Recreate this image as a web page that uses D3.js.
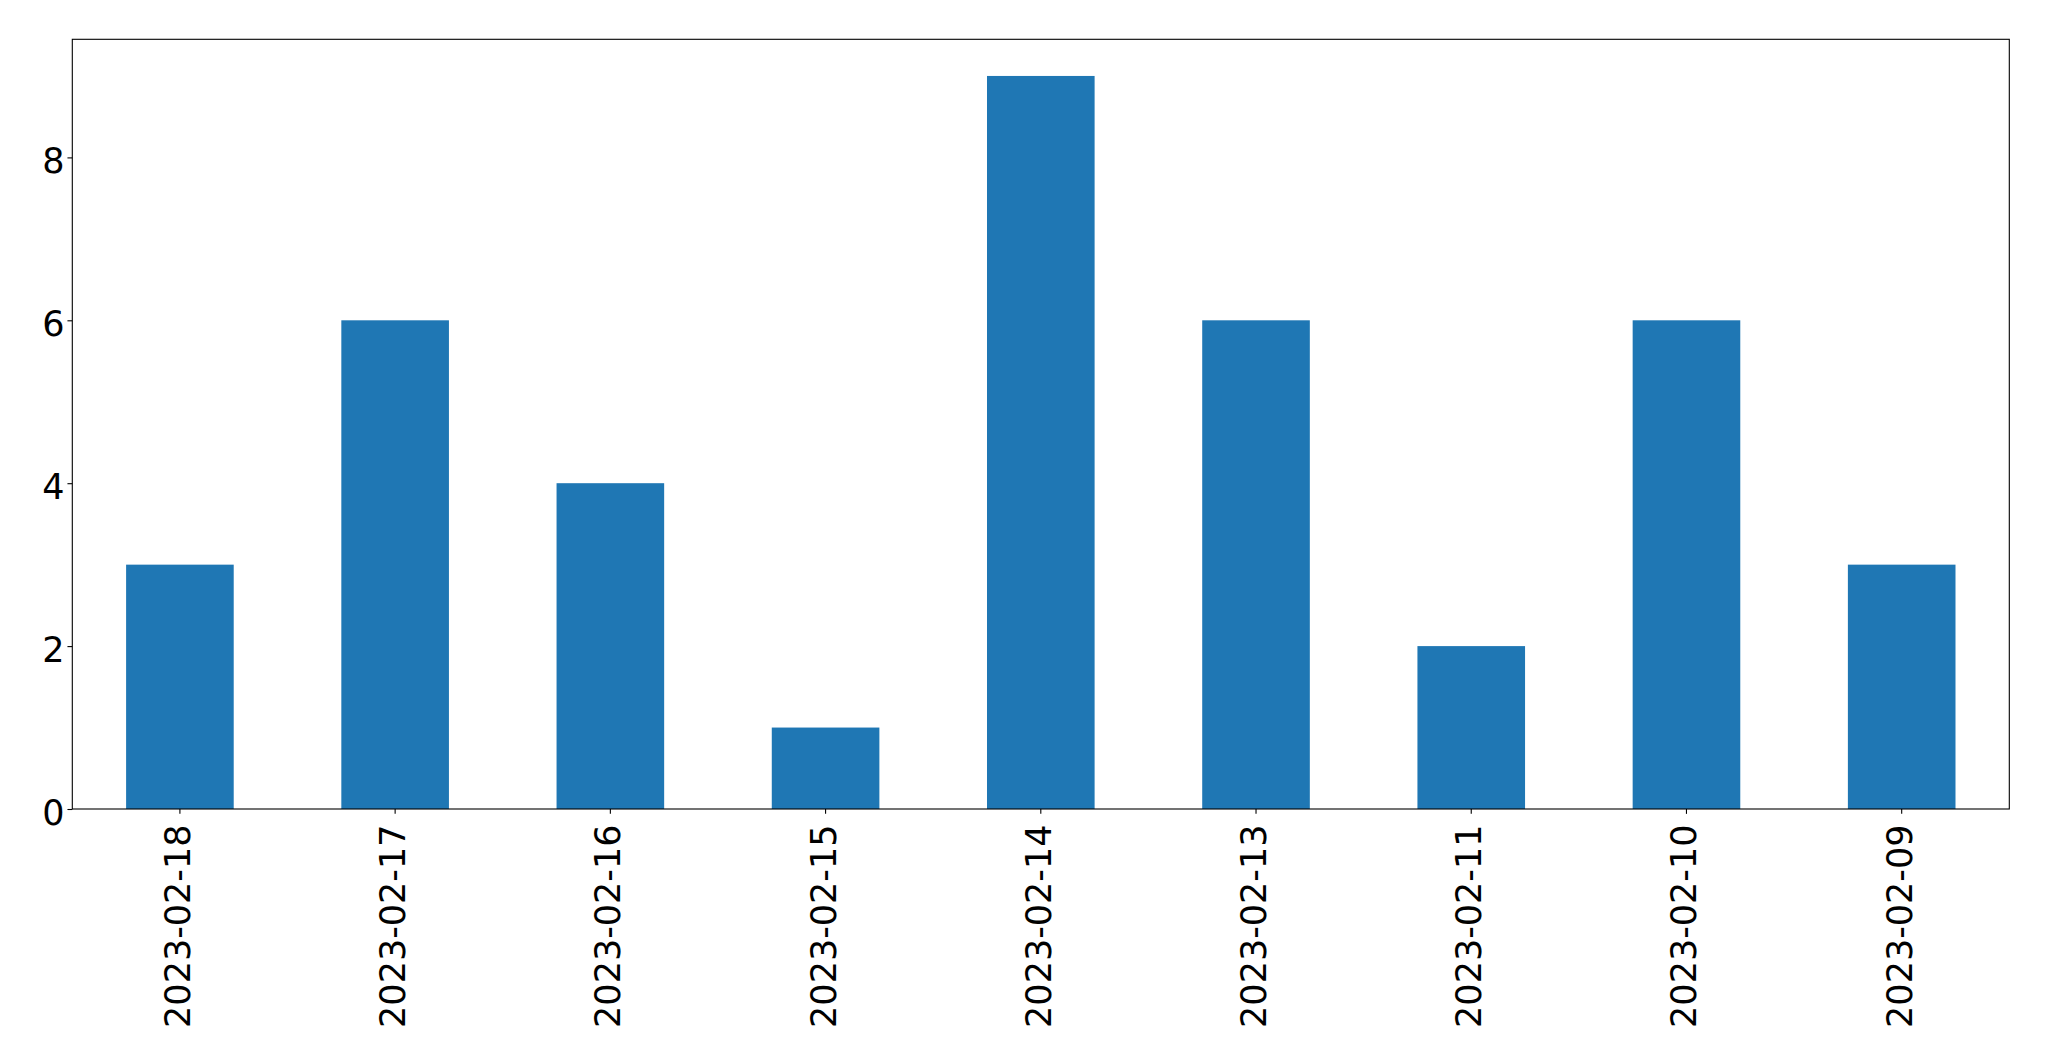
<!DOCTYPE html>
<html>
<head>
<meta charset="utf-8">
<script src="https://cdn.jsdelivr.net/npm/d3@7"></script>
<style>
  html, body { margin: 0; padding: 0; background: #fff; }
  svg { display: block; }
  text { font-family: "DejaVu Sans", sans-serif; fill: #000; }
</style>
</head>
<body>
<svg id="chart" width="2049" height="1061"></svg>
<script>
const categories = ["2023-02-18", "2023-02-17", "2023-02-16", "2023-02-15", "2023-02-14", "2023-02-13", "2023-02-11", "2023-02-10", "2023-02-09"];
const values = [3, 6, 4, 1, 9, 6, 2, 6, 3];
const yTicks = [0, 2, 4, 6, 8];

const W = 2049, H = 1061;
const margin = { left: 72.3, right: 2049 - 2009.3, top: 39.3, bottom: 1061 - 809 };
const svg = d3.select("#chart");

const x = d3.scaleBand()
  .domain(categories)
  .range([margin.left, W - margin.right])
  .paddingInner(0.5)
  .paddingOuter(0.25);

const y = d3.scaleLinear()
  .domain([0, d3.max(values) * 1.05])
  .range([H - margin.bottom, margin.top]);

// bars
svg.append("g")
  .selectAll("rect")
  .data(values)
  .join("rect")
  .attr("x", (d, i) => x(categories[i]))
  .attr("width", x.bandwidth())
  .attr("y", d => y(d))
  .attr("height", d => y(0) - y(d))
  .attr("fill", "#1f77b4");

const fontSize = 35;
const tickLen = 4.86;

// y axis
const yAxis = svg.append("g")
  .attr("transform", `translate(${margin.left},0)`)
  .call(d3.axisLeft(y).tickValues(yTicks).tickSize(tickLen).tickPadding(3).tickFormat(d3.format("d")));
yAxis.select(".domain").remove();
yAxis.selectAll(".tick line").attr("stroke", "#000").attr("stroke-width", 1.1);
yAxis.selectAll(".tick text")
  .style("font-size", fontSize + "px")
  .style("font-family", "'DejaVu Sans', sans-serif")
  .attr("dy", "15px");

// x axis
const xAxis = svg.append("g")
  .attr("transform", `translate(0,${H - margin.bottom})`)
  .call(d3.axisBottom(x).tickSize(tickLen).tickPadding(0));
xAxis.select(".domain").remove();
xAxis.selectAll(".tick line").attr("stroke", "#000").attr("stroke-width", 1.1);
xAxis.selectAll(".tick text")
  .style("font-size", fontSize + "px")
  .style("font-family", "'DejaVu Sans', sans-serif")
  .attr("text-anchor", "end")
  .attr("y", 0)
  .attr("dy", "10px")
  .attr("transform", "translate(0,15.5) rotate(-90)");

// frame
svg.append("rect")
  .attr("x", margin.left)
  .attr("y", margin.top)
  .attr("width", W - margin.right - margin.left)
  .attr("height", H - margin.bottom - margin.top)
  .attr("fill", "none")
  .attr("stroke", "#000")
  .attr("stroke-width", 1.1);
</script>
</body>
</html>
